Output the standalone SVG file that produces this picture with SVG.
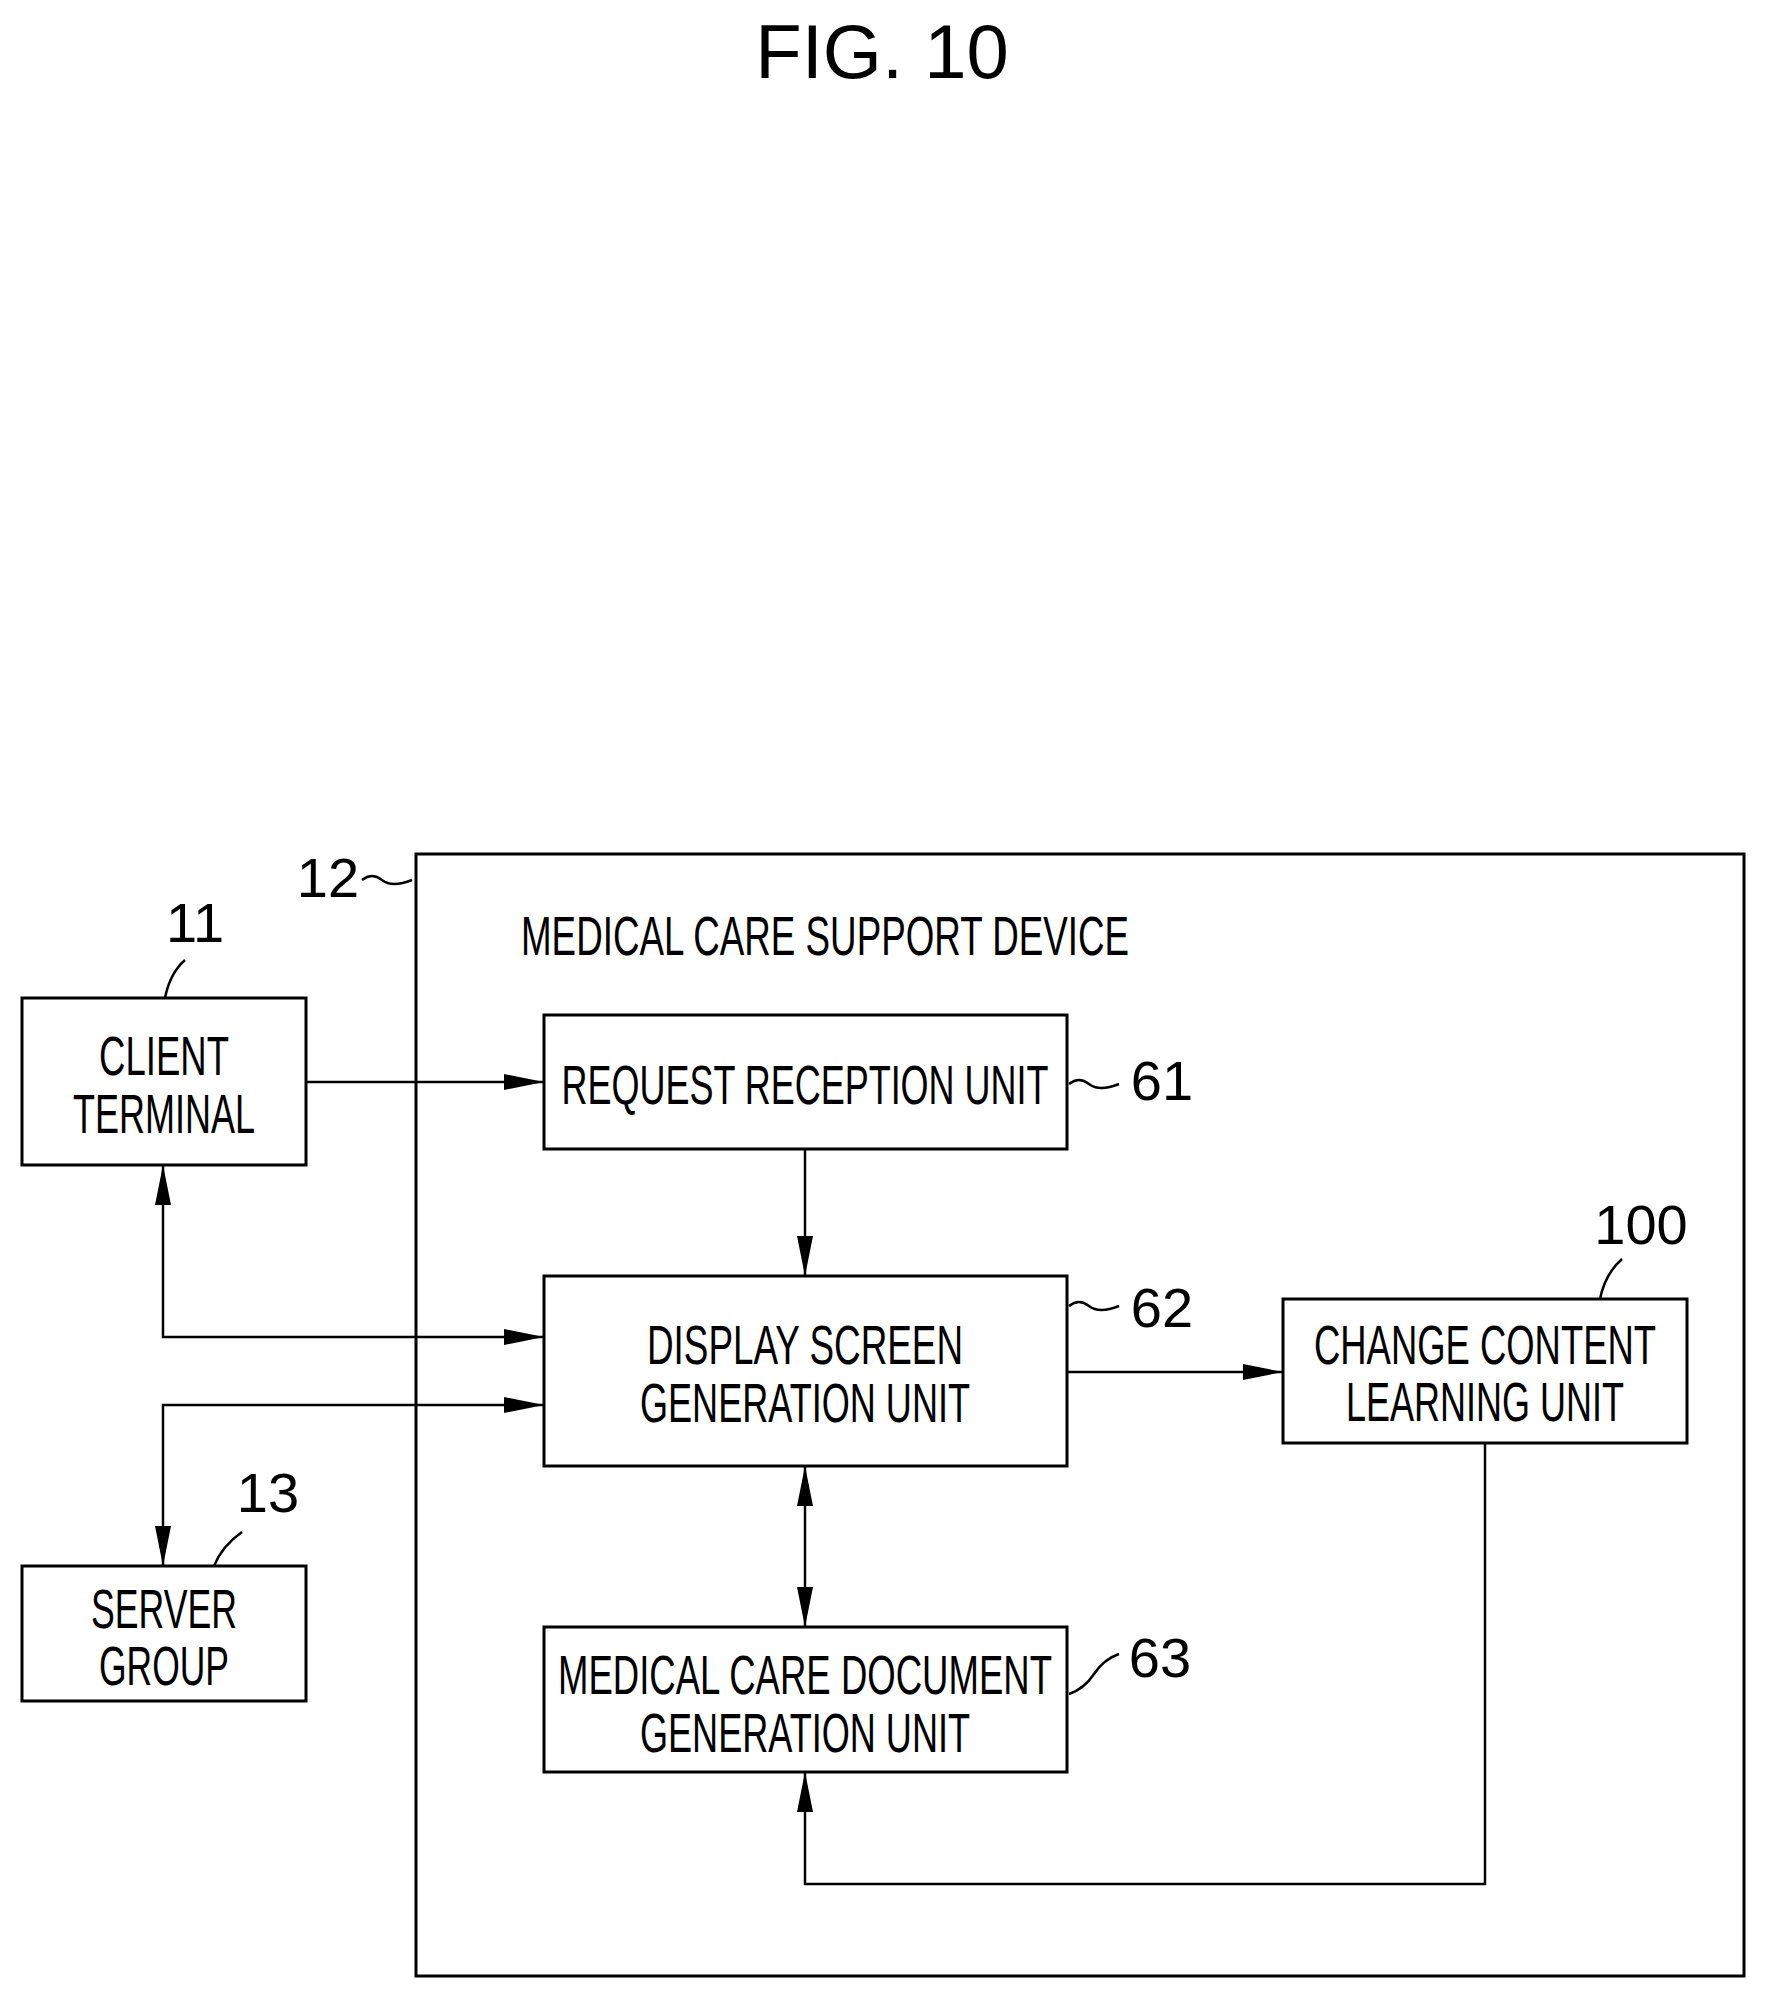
<svg xmlns="http://www.w3.org/2000/svg" width="1766" height="1998" viewBox="0 0 1766 1998">
<style>
.b{fill:none;stroke:#000;stroke-width:3}
.l{fill:none;stroke:#000;stroke-width:2.5}
text{font-family:"Liberation Sans Narrow","Liberation Sans",Arial,sans-serif;font-size:56px;fill:#000;text-anchor:middle}
</style>
<defs><marker id="a" viewBox="0 0 40 16" refX="40" refY="8" markerWidth="40" markerHeight="16" markerUnits="userSpaceOnUse" orient="auto-start-reverse"><path d="M0,0 L40,8 L0,16 z"/></marker></defs>
<rect width="1766" height="1998" fill="#fff"/>
<text x="882" y="78" style="font-size:76px">FIG. 10</text>
<g id="device"><rect class="b" x="416" y="854" width="1328" height="1122"/>
<text x="825" y="955" textLength="608" lengthAdjust="spacingAndGlyphs">MEDICAL CARE SUPPORT DEVICE</text>
<text x="328" y="897">12</text><path class="l" d="M362,880 q10,-8 20,0 t30,0"/></g>
<g id="client"><rect class="b" x="22" y="998" width="284" height="167"/>
<text x="164" y="1075" textLength="130" lengthAdjust="spacingAndGlyphs">CLIENT</text>
<text x="164" y="1133" textLength="182" lengthAdjust="spacingAndGlyphs">TERMINAL</text>
<text x="195" y="942">11</text><path class="l" d="M165,998 q5,-25 20,-38"/></g>
<g id="request"><rect class="b" x="544" y="1015" width="523" height="134"/>
<text x="805" y="1104" textLength="487" lengthAdjust="spacingAndGlyphs">REQUEST RECEPTION UNIT</text>
<text x="1162" y="1100">61</text><path class="l" d="M1069,1084 q10,-8 20,0 t30,0"/></g>
<g id="display"><rect class="b" x="544" y="1276" width="523" height="190"/>
<text x="805" y="1364" textLength="316" lengthAdjust="spacingAndGlyphs">DISPLAY SCREEN</text>
<text x="805" y="1422" textLength="330" lengthAdjust="spacingAndGlyphs">GENERATION UNIT</text>
<text x="1162" y="1327">62</text><path class="l" d="M1069,1306 q10,-8 20,0 t30,0"/></g>
<g id="change"><rect class="b" x="1283" y="1299" width="404" height="144"/>
<text x="1485" y="1364" textLength="342" lengthAdjust="spacingAndGlyphs">CHANGE CONTENT</text>
<text x="1485" y="1421" textLength="278" lengthAdjust="spacingAndGlyphs">LEARNING UNIT</text>
<text x="1641" y="1244">100</text><path class="l" d="M1600,1299 q5,-25 22,-40"/></g>
<g id="server"><rect class="b" x="22" y="1566" width="284" height="135"/>
<text x="164" y="1628" textLength="146" lengthAdjust="spacingAndGlyphs">SERVER</text>
<text x="164" y="1685" textLength="130" lengthAdjust="spacingAndGlyphs">GROUP</text>
<text x="268" y="1512">13</text><path class="l" d="M214,1566 q8,-20 28,-34"/></g>
<g id="meddoc"><rect class="b" x="544" y="1627" width="523" height="145"/>
<text x="805" y="1694" textLength="494" lengthAdjust="spacingAndGlyphs">MEDICAL CARE DOCUMENT</text>
<text x="805" y="1752" textLength="330" lengthAdjust="spacingAndGlyphs">GENERATION UNIT</text>
<text x="1160" y="1677">63</text><path class="l" d="M1069,1694 q15,-5 25,-20 t25,-20"/></g>
<g id="connectors">
<path class="l" d="M306,1082 H544" marker-end="url(#a)"/>
<path class="l" d="M805,1149 V1276" marker-end="url(#a)"/>
<path class="l" d="M163,1165 V1337 H544" marker-start="url(#a)" marker-end="url(#a)"/>
<path class="l" d="M163,1566 V1405 H544" marker-start="url(#a)" marker-end="url(#a)"/>
<path class="l" d="M1067,1372 H1283" marker-end="url(#a)"/>
<path class="l" d="M805,1466 V1627" marker-start="url(#a)" marker-end="url(#a)"/>
<path class="l" d="M1485,1443 V1884 H805 V1772" marker-end="url(#a)"/>
</g>
</svg>
